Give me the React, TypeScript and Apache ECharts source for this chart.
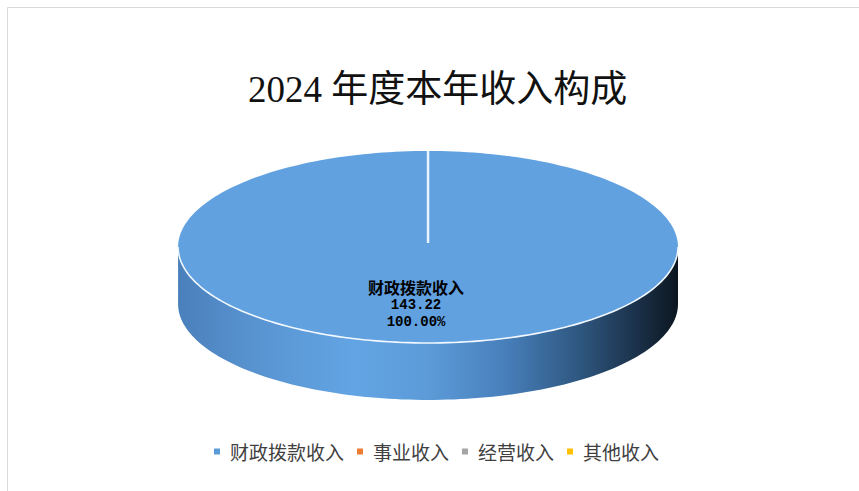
import React, { useEffect, useRef } from "react";
import * as echarts from "echarts";

const titleText = "2024 年度本年收入构成";
const categories = ["财政拨款收入", "事业收入", "经营收入", "其他收入"];
const values = [143.22, 0, 0, 0];
const colors = ["#5B9BD5", "#ED7D31", "#A5A5A5", "#FFC000"];

const total = values.reduce((a, b) => a + b, 0);

const TOP_COLOR = "#61A1E0";
const SIDE_STOPS = [
  { offset: 0, color: "#4A80BC" },
  { offset: 0.15, color: "#5893D0" },
  { offset: 0.35, color: "#63A4E4" },
  { offset: 0.5, color: "#5C9BD8" },
  { offset: 0.65, color: "#4880BC" },
  { offset: 0.8, color: "#2F5881" },
  { offset: 0.92, color: "#1A3048" },
  { offset: 1, color: "#0C1620" },
];

function makeRender(seriesIndex: number) {
  return (params: any, api: any) => {
    const v = api.value(0);
    if (!v || !total) return null;
    const W = api.getWidth();
    const H = api.getHeight();
    const cx = W * 0.4983;
    const cy = H * 0.503;
    const rx = W * 0.291;
    const ry = H * 0.1955;
    const depth = H * 0.116;
    let start = 0;
    for (let i = 0; i < seriesIndex; i++) start += values[i];
    const a0 = (start / total) * Math.PI * 2;
    const a1 = ((start + v) / total) * Math.PI * 2;
    const pt = (t: number, dy = 0) => [cx + rx * Math.sin(t), cy - ry * Math.cos(t) + dy];
    const arc = (t0: number, t1: number, dy = 0) => {
      const n = Math.max(2, Math.ceil(((t1 - t0) / (Math.PI * 2)) * 240));
      const out: number[][] = [];
      for (let k = 0; k <= n; k++) out.push(pt(t0 + ((t1 - t0) * k) / n, dy));
      return out;
    };
    const children: any[] = [];
    const s0 = Math.max(a0, Math.PI / 2);
    const s1 = Math.min(a1, (Math.PI * 3) / 2);
    if (s1 > s0) {
      const topEdge = arc(s0, s1);
      const botEdge = arc(s0, s1, depth).reverse();
      children.push({
        type: "polygon",
        shape: { points: topEdge.concat(botEdge) },
        style: {
          fill: {
            type: "linear",
            x: cx - rx,
            y: 0,
            x2: cx + rx,
            y2: 0,
            global: true,
            colorStops: SIDE_STOPS,
          },
          stroke: null,
        },
      });
    }
    children.push({
      type: "polygon",
      shape: { points: [[cx, cy]].concat(arc(a0, a1)) },
      style: { fill: TOP_COLOR, stroke: null },
    });
    if (s1 > s0) {
      children.push({
        type: "polyline",
        shape: { points: arc(s0, s1) },
        style: { stroke: "#F2F8FF", lineWidth: 1.6, fill: null },
      });
    }
    const p0 = pt(a0);
    children.push({
      type: "line",
      shape: { x1: cx, y1: cy - 4, x2: p0[0], y2: p0[1] },
      style: { stroke: "#EAF4FF", lineWidth: 2.5 },
    });
    if (a1 - a0 < Math.PI * 2 - 1e-6) {
      const p1 = pt(a1);
      children.push({
        type: "line",
        shape: { x1: cx, y1: cy, x2: p1[0], y2: p1[1] },
        style: { stroke: "#EAF4FF", lineWidth: 2.5 },
      });
    }
    const pct = ((v / total) * 100).toFixed(2) + "%";
    children.push({
      type: "text",
      x: cx - 12,
      y: cy + 57,
      style: {
        text: `{n|${categories[seriesIndex]}}\n{v|${v.toFixed(2)}}\n{v|${pct}}`,
        align: "center",
        verticalAlign: "middle",
        rich: {
          n: {
            fontSize: 16,
            fontWeight: "bold",
            fontFamily: "'Noto Sans CJK SC'",
            color: "#1C2430",
            lineHeight: 20,
            align: "center",
          },
          v: {
            fontSize: 14,
            fontWeight: "bold",
            fontFamily: "'Liberation Mono'",
            color: "#1C2430",
            lineHeight: 17,
            align: "center",
          },
        },
      },
    });
    return { type: "group", children };
  };
}

export default function App() {
  const ref = useRef<HTMLDivElement>(null);
  useEffect(() => {
    if (!ref.current) return;
    const chart = echarts.init(ref.current, null, { renderer: "svg" });
    chart.setOption({
      animation: false,
      backgroundColor: "#FFFFFF",
      color: colors,
      title: {
        text: titleText,
        left: 243,
        top: 66,
        textStyle: {
          fontSize: 37,
          fontWeight: "normal",
          fontFamily: "'Liberation Serif', 'Noto Sans CJK SC'",
          color: "#111111",
        },
      },
      legend: {
        data: categories,
        left: 209,
        top: 437,
        icon: "path://M0,0H6V6H0Z",
        itemWidth: 16,
        itemHeight: 6,
        itemGap: 13,
        selectedMode: false,
        textStyle: {
          fontSize: 19,
          color: "#404040",
          fontFamily: "'Noto Sans CJK SC'",
        },
      },
      graphic: [
        {
          type: "polyline",
          shape: { points: [[7.5, 491], [7.5, 7.5], [859, 7.5]] },
          style: { stroke: "#D9D9D9", lineWidth: 1, fill: null },
          silent: true,
        },
      ],
      series: categories.map((name, i) => ({
        type: "custom",
        name,
        coordinateSystem: "none",
        itemStyle: { color: colors[i] },
        renderItem: makeRender(i),
        data: [[values[i]]],
        silent: true,
      })),
    });
    return () => chart.dispose();
  }, []);
  return (
    <div
      ref={ref}
      style={{ position: "absolute", left: 0, top: 0, width: 859, height: 491 }}
    />
  );
}
